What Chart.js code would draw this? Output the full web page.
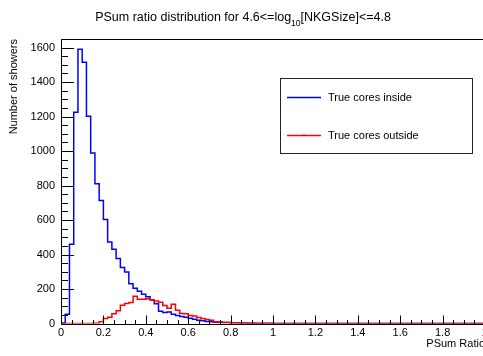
<!DOCTYPE html>
<html>
<head>
<meta charset="utf-8">
<script src="https://cdn.jsdelivr.net/npm/chart.js@4.4.0/dist/chart.umd.min.js"></script>
<style>
  html, body { margin: 0; padding: 0; overflow: hidden; background: #fff; }
  canvas { display: block; }
</style>
</head>
<body>
<canvas id="psumChart" width="495" height="356"></canvas>
<script>
// 100 bins of width 0.02 from 0 to 2
const binStart = 0;
const binWidth = 0.02;

// counts per bin
const insideCounts = [
    3, 54, 460, 1225, 1590, 1515, 1202, 989, 811, 713,
    603, 473, 430, 377, 325, 299, 231, 204, 187, 170,
    155, 138, 114, 71, 64, 66, 54, 46, 41, 36,
    30, 24, 19, 16, 12, 10, 7, 6, 5, 4,
    3, 3, 2, 3, 1, 1, 0, 0, 0, 0,
    0, 0, 0, 0, 0, 0, 0, 0, 0, 0,
    0, 0, 0, 0, 0, 0, 0, 0, 0, 0,
    0, 0, 0, 0, 0, 0, 0, 0, 0, 0,
    0, 0, 0, 0, 0, 0, 0, 0, 0, 0,
    0, 0, 0, 0, 0, 0, 0, 0, 0, 0
];
const outsideCounts = [
    0, 0, 0, 0, 0, 0, 0, 0, 2, 10,
    29, 36, 56, 74, 106, 116, 122, 158, 140, 140,
    143, 136, 131, 123, 104, 88, 112, 77, 58, 57,
    46, 44, 35, 29, 23, 19, 10, 10, 7, 7,
    5, 4, 3, 3, 2, 2, 1, 2, 2, 1,
    0, 0, 0, 0, 0, 0, 0, 0, 0, 0,
    0, 0, 0, 0, 0, 0, 0, 0, 0, 0,
    0, 0, 0, 0, 0, 0, 0, 0, 0, 0,
    0, 0, 0, 0, 0, 0, 0, 0, 0, 0,
    0, 0, 0, 0, 0, 0, 0, 0, 0, 0
];

const seriesLabels = ["True cores inside", "True cores outside"];
const seriesColors = ["#0000ff", "#ff0000"];

const xTicks = [0, 0.2, 0.4, 0.6, 0.8, 1, 1.2, 1.4, 1.6, 1.8, 2];
const yTicks = [0, 200, 400, 600, 800, 1000, 1200, 1400, 1600];

const titleMain = "PSum ratio distribution for 4.6<=log";
const titleSub = "10";
const titleEnd = "[NKGSize]<=4.8";

const fontFamily = "'Liberation Sans', Arial, Helvetica, sans-serif";

// left bin edges plus the last right edge, for a stepped outline
function histPoints(counts) {
    let pts = counts.map((c, i) => ({ x: binStart + i * binWidth, y: c }));
    pts.push({ x: binStart + counts.length * binWidth, y: counts[counts.length - 1] });
    return pts;
}

// frame and ROOT style inner ticks
const framePlugin = {
    id: 'frame',
    afterDatasetsDraw(chart) {
        let ctx = chart.ctx;
        let a = chart.chartArea;
        let xs = chart.scales.x;
        let ys = chart.scales.y;
        ctx.save();
        ctx.strokeStyle = '#000';
        ctx.lineWidth = 1;
        ctx.beginPath();
        ctx.rect(Math.round(a.left) + 0.5, Math.round(a.top) + 0.5, Math.round(a.right - a.left), Math.round(a.bottom - a.top));
        ctx.stroke();

        ctx.beginPath();
        let bottom = Math.round(a.bottom) + 0.5;
        for (let k = 0; k <= 40; k++) {
            let v = k * 0.05;
            let px = Math.round(xs.getPixelForValue(v)) + 0.5;
            let len = (k % 4 === 0) ? 9 : 4.5;
            ctx.moveTo(px, bottom);
            ctx.lineTo(px, bottom - len);
        }
        let left = Math.round(a.left) + 0.5;
        for (let k = 0; k * 50 <= ys.max; k++) {
            let py = Math.round(ys.getPixelForValue(k * 50)) + 0.5;
            let len = (k % 4 === 0) ? 12.5 : 6.5;
            ctx.moveTo(left, py);
            ctx.lineTo(left + len, py);
        }
        ctx.stroke();
        ctx.restore();
    }
};

// title with the log10 subscript
const titlePlugin = {
    id: 'rootTitle',
    afterDraw(chart) {
        let ctx = chart.ctx;
        let big = "12.5px " + fontFamily;
        let small = "8.5px " + fontFamily;
        ctx.save();
        ctx.fillStyle = '#000';
        ctx.textBaseline = 'alphabetic';
        ctx.font = big;
        let w1 = ctx.measureText(titleMain).width;
        let w3 = ctx.measureText(titleEnd).width;
        ctx.font = small;
        let w2 = ctx.measureText(titleSub).width;
        let x = 243 - (w1 + w2 + w3) / 2;
        let y = 21;
        ctx.font = big;
        ctx.fillText(titleMain, x, y);
        ctx.font = small;
        ctx.fillText(titleSub, x + w1, y + 4.5);
        ctx.font = big;
        ctx.fillText(titleEnd, x + w1 + w2, y);
        ctx.restore();
    }
};

// boxed legend inside the frame
const legendPlugin = {
    id: 'rootLegend',
    afterDraw(chart) {
        let ctx = chart.ctx;
        ctx.save();
        ctx.fillStyle = '#fff';
        ctx.fillRect(280.5, 78.5, 192, 75);
        ctx.strokeStyle = '#222';
        ctx.lineWidth = 1;
        ctx.strokeRect(280.5, 78.5, 192, 75);
        let rows = [97, 135];
        ctx.font = "11px " + fontFamily;
        ctx.textBaseline = 'middle';
        seriesLabels.forEach((label, i) => {
            ctx.strokeStyle = seriesColors[i];
            ctx.lineWidth = 1.6;
            ctx.beginPath();
            ctx.moveTo(287, rows[i] + 0.5);
            ctx.lineTo(321, rows[i] + 0.5);
            ctx.stroke();
            ctx.fillStyle = '#000';
            ctx.fillRect(303.5, rows[i], 1, 1);
            ctx.fillText(label, 328, rows[i] + 0.5);
        });
        ctx.restore();
    }
};

function manageHistChart() {
    let ctx = document.getElementById("psumChart").getContext('2d');
    let chart = new Chart(ctx, {
        type: 'line',
        data: {
            datasets: [{
                label: seriesLabels[0],
                data: histPoints(insideCounts),
                borderColor: seriesColors[0],
                borderWidth: 1.5,
                stepped: 'before',
                pointRadius: 0,
                fill: false,
                order: 1
            }, {
                label: seriesLabels[1],
                data: histPoints(outsideCounts),
                borderColor: seriesColors[1],
                borderWidth: 1.5,
                stepped: 'before',
                pointRadius: 0,
                fill: false,
                order: 0
            }]
        },
        options: {
            responsive: false,
            animation: false,
            layout: { padding: { top: 39, left: 0, right: 10, bottom: 0 } },
            plugins: {
                legend: { display: false },
                tooltip: { enabled: false },
                title: { display: false }
            },
            scales: {
                x: {
                    type: 'linear',
                    min: 0,
                    max: 2,
                    grid: { display: false, drawTicks: false },
                    border: { display: false },
                    afterBuildTicks: (scale) => { scale.ticks = xTicks.map(v => ({ value: v })); },
                    afterFit: (scale) => { scale.height = 32.5; },
                    ticks: {
                        autoSkip: false,
                        maxRotation: 0,
                        padding: 3,
                        color: '#000',
                        font: { family: fontFamily, size: 11 },
                        callback: (v) => String(v)
                    },
                    title: {
                        display: true,
                        text: 'PSum Ratio',
                        align: 'end',
                        color: '#000',
                        font: { family: fontFamily, size: 11 },
                        padding: { top: 0, bottom: 5 }
                    }
                },
                y: {
                    type: 'linear',
                    min: 0,
                    max: 1650,
                    grid: { display: false, drawTicks: false },
                    border: { display: false },
                    afterBuildTicks: (scale) => { scale.ticks = yTicks.map(v => ({ value: v })); },
                    afterFit: (scale) => { scale.width = 61; },
                    ticks: {
                        padding: 6,
                        color: '#000',
                        font: { family: fontFamily, size: 11 },
                        callback: (v) => String(v)
                    },
                    title: {
                        display: true,
                        text: 'Number of showers',
                        align: 'end',
                        color: '#000',
                        font: { family: fontFamily, size: 11 },
                        padding: { top: 7.4, bottom: 0 }
                    }
                }
            }
        },
        plugins: [framePlugin, titlePlugin, legendPlugin]
    });
}

manageHistChart();
</script>
</body>
</html>
